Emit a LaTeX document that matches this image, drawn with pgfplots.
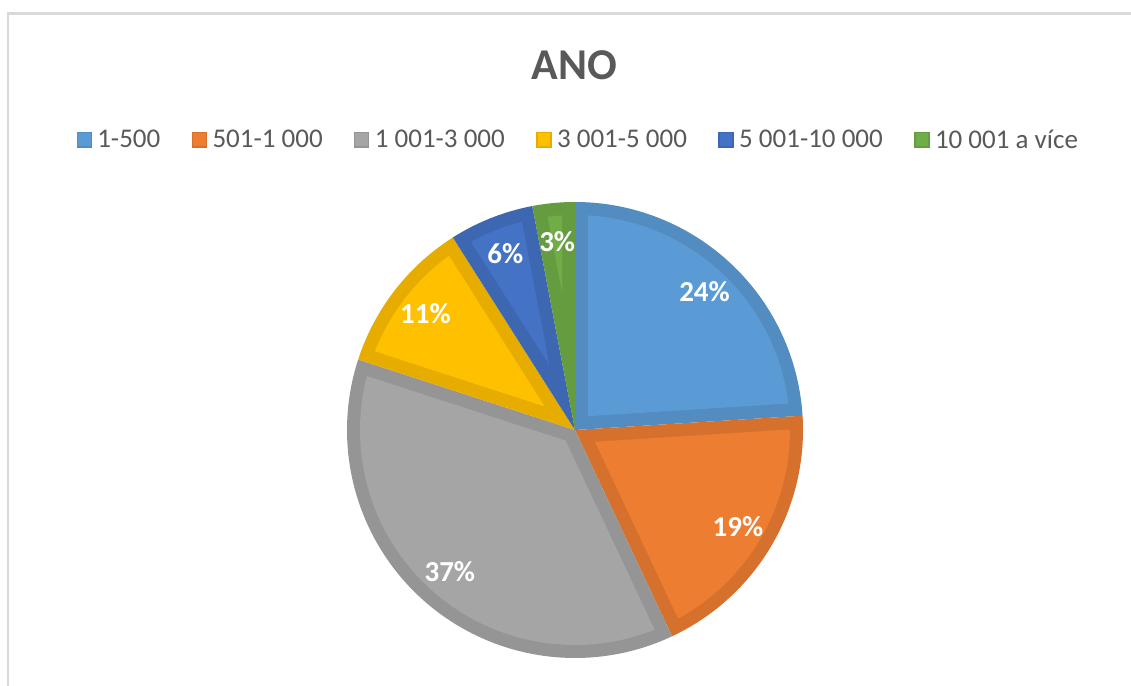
\documentclass[border=0pt]{standalone}
\usepackage{pgfplots}
\pgfplotsset{compat=1.18}
\usepackage{fontspec}
\setmainfont{Carlito}
\definecolor{txt}{HTML}{595959}
\definecolor{frame}{HTML}{D9D9D9}
\definecolor{cA}{HTML}{5B9BD5}\definecolor{dA}{HTML}{528CC0}
\definecolor{cB}{HTML}{ED7D31}\definecolor{dB}{HTML}{D5712C}
\definecolor{cC}{HTML}{A5A5A5}\definecolor{dC}{HTML}{959595}
\definecolor{cD}{HTML}{FFC000}\definecolor{dD}{HTML}{E6AD00}
\definecolor{cE}{HTML}{4472C4}\definecolor{dE}{HTML}{3D67B0}
\definecolor{cF}{HTML}{70AD47}\definecolor{dF}{HTML}{659C40}
\newcommand{\dd}{0.057}
% #1 cumulative start (%), #2 cumulative end (%), #3 fill, #4 border, #5 label
\newcommand{\pieslice}[5]{%
 \addplot[forget plot, fill=#4, draw=none, domain={90-3.6*(#2)}:{90-3.6*(#1)}, samples=90]
   ({cos(x)},{sin(x)}) -- (axis cs:0,0) -- cycle;
 \addplot[forget plot, fill=#3, draw=none,
   domain={90-3.6*(#2)+asin(\dd/(1-\dd))}:{90-3.6*(#1)-asin(\dd/(1-\dd))}, samples=90]
   ({(1-\dd)*cos(x)},{(1-\dd)*sin(x)})
   -- (axis cs:{\dd/sin(1.8*((#2)-(#1)))*cos(90-1.8*((#1)+(#2)))},{\dd/sin(1.8*((#2)-(#1)))*sin(90-1.8*((#1)+(#2)))}) -- cycle;
 \node[text=white, font=\bfseries\fontsize{29bp}{34bp}\selectfont]
   at (axis cs:{0.83*cos(90-1.8*((#1)+(#2)))},{0.83*sin(90-1.8*((#1)+(#2)))}) {#5\%};
}
\begin{document}
\begin{tikzpicture}
\useasboundingbox (0,0) rectangle (1131bp,686bp);
\fill[white] (0,0) rectangle (1131bp,686bp);
\draw[frame, line width=2.5bp] (8bp,-10bp) -- (8bp,672.5bp) -- (1140bp,672.5bp);
\node[text=txt, font=\bfseries\fontsize{44bp}{50bp}\selectfont] at (574.5bp,621bp) {ANO};
\begin{axis}[
  x=228bp, y=228bp, xmin=-1, xmax=1, ymin=-1, ymax=1,
  hide axis, clip=false,
  at={(575bp,256bp)}, anchor=center,
  legend style={at={(axis cs:0.022,1.272)}, anchor=center, draw=none, fill=none,
    legend columns=-1, font=\fontsize{27bp}{32bp}\selectfont, text=txt,
    nodes={inner xsep=5.5bp}, /tikz/every even column/.append style={column sep=26bp}},
  legend image code/.code={\draw[#1, line width=1.2bp] (0bp,-7bp) rectangle (14bp,7.5bp);},
]
\addlegendimage{fill=cA, draw=dA}\addlegendentry{1-500}
\addlegendimage{fill=cB, draw=dB}\addlegendentry{501-1 000}
\addlegendimage{fill=cC, draw=dC}\addlegendentry{1 001-3 000}
\addlegendimage{fill=cD, draw=dD}\addlegendentry{3 001-5 000}
\addlegendimage{fill=cE, draw=dE}\addlegendentry{5 001-10 000}
\addlegendimage{fill=cF, draw=dF}\addlegendentry{10 001 a více}
% shares (%): 24, 19, 37, 11, 6, 3 -> cumulative 0,24,43,80,91,97,100
\pieslice{0}{24}{cA}{dA}{24}
\pieslice{24}{43}{cB}{dB}{19}
\pieslice{43}{80}{cC}{dC}{37}
\pieslice{80}{91}{cD}{dD}{11}
\pieslice{91}{97}{cE}{dE}{6}
\pieslice{97}{100}{cF}{dF}{3}
\end{axis}
\end{tikzpicture}
\end{document}
